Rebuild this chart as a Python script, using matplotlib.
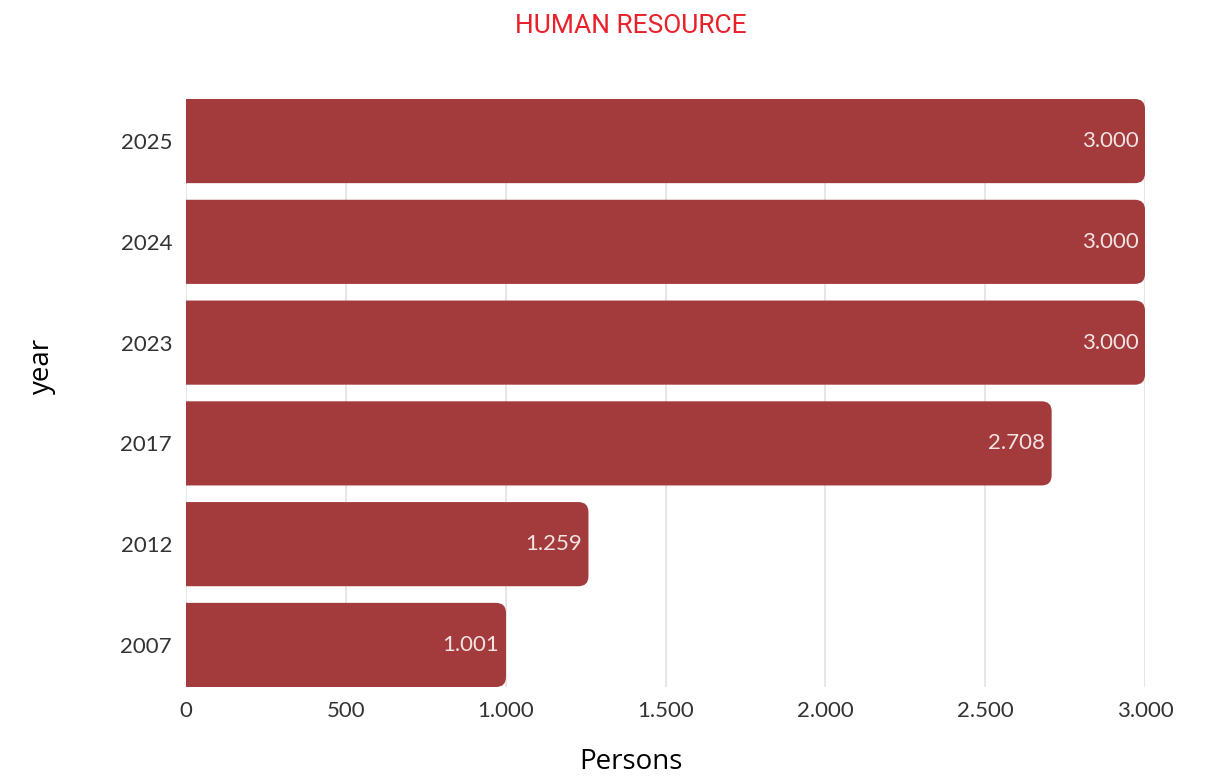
import matplotlib.pyplot as plt
from matplotlib.path import Path
from matplotlib.patches import PathPatch
from matplotlib.ticker import FuncFormatter

years = ['2025', '2024', '2023', '2017', '2012', '2007']
persons = [3000, 3000, 3000, 2708, 1259, 1001]
xticks = [0, 500, 1000, 1500, 2000, 2500, 3000]

bar_color = '#a33a3b'
bar_h = 0.835


def fmt(v, pos=None):
    return f'{int(v):,}'.replace(',', '.')


fig = plt.figure(figsize=(12.07, 7.84), dpi=100)
ax = fig.add_axes([186 / 1207, 1 - 687 / 784, (1145 - 186) / 1207, (687 - 99) / 784])

n = len(years)
ax.set_xlim(0, 3000)
ax.set_ylim(n - 1 + bar_h / 2, -bar_h / 2)

# rounding radius in pixels -> data units
r_px = 10
px_x = ax.bbox.width / 3000
px_y = ax.bbox.height / (n - 1 + bar_h)
rx = r_px / px_x
ry = r_px / px_y

for i, v in enumerate(persons):
    y0 = i - bar_h / 2
    y1 = i + bar_h / 2
    verts = [
        (0, y0), (v - rx, y0), (v, y0), (v, y0 + ry),
        (v, y1 - ry), (v, y1), (v - rx, y1), (0, y1), (0, y0),
    ]
    codes = [Path.MOVETO, Path.LINETO, Path.CURVE3, Path.CURVE3,
             Path.LINETO, Path.CURVE3, Path.CURVE3, Path.LINETO, Path.CLOSEPOLY]
    ax.add_patch(PathPatch(Path(verts, codes), facecolor=bar_color, edgecolor='none', zorder=2))
    ax.text(v - 21, i, fmt(v), ha='right', va='center', color='#f3e3e3',
            fontsize=16, family='Lato', zorder=3)

ax.set_yticks(range(n))
ax.set_yticklabels(years)
ax.set_xticks(xticks)
ax.xaxis.set_major_formatter(FuncFormatter(fmt))
ax.tick_params(axis='y', length=0, labelsize=16, labelcolor='#333333', pad=10)
ax.tick_params(axis='x', length=0, labelsize=16, labelcolor='#333333', pad=10)
for lab in ax.get_xticklabels() + ax.get_yticklabels():
    lab.set_family('Lato')
ax.grid(axis='x', color='#e2e2e2', linewidth=1.2, zorder=0)
ax.set_axisbelow(True)
for s in ax.spines.values():
    s.set_visible(False)

fig.text(631 / 1207, 1 - 762 / 784, 'Persons', ha='center', va='center',
         fontsize=20, family='Open Sans')
fig.text(42 / 1207, 1 - 366 / 784, 'year', ha='center', va='center', rotation=90,
         fontsize=20, family='Open Sans')
fig.text(631 / 1207, 1 - 26 / 784, 'HUMAN RESOURCE', ha='center', va='center',
         color='#e8212b', fontsize=19, family='Roboto')

plt.savefig('out.png', dpi=100)
